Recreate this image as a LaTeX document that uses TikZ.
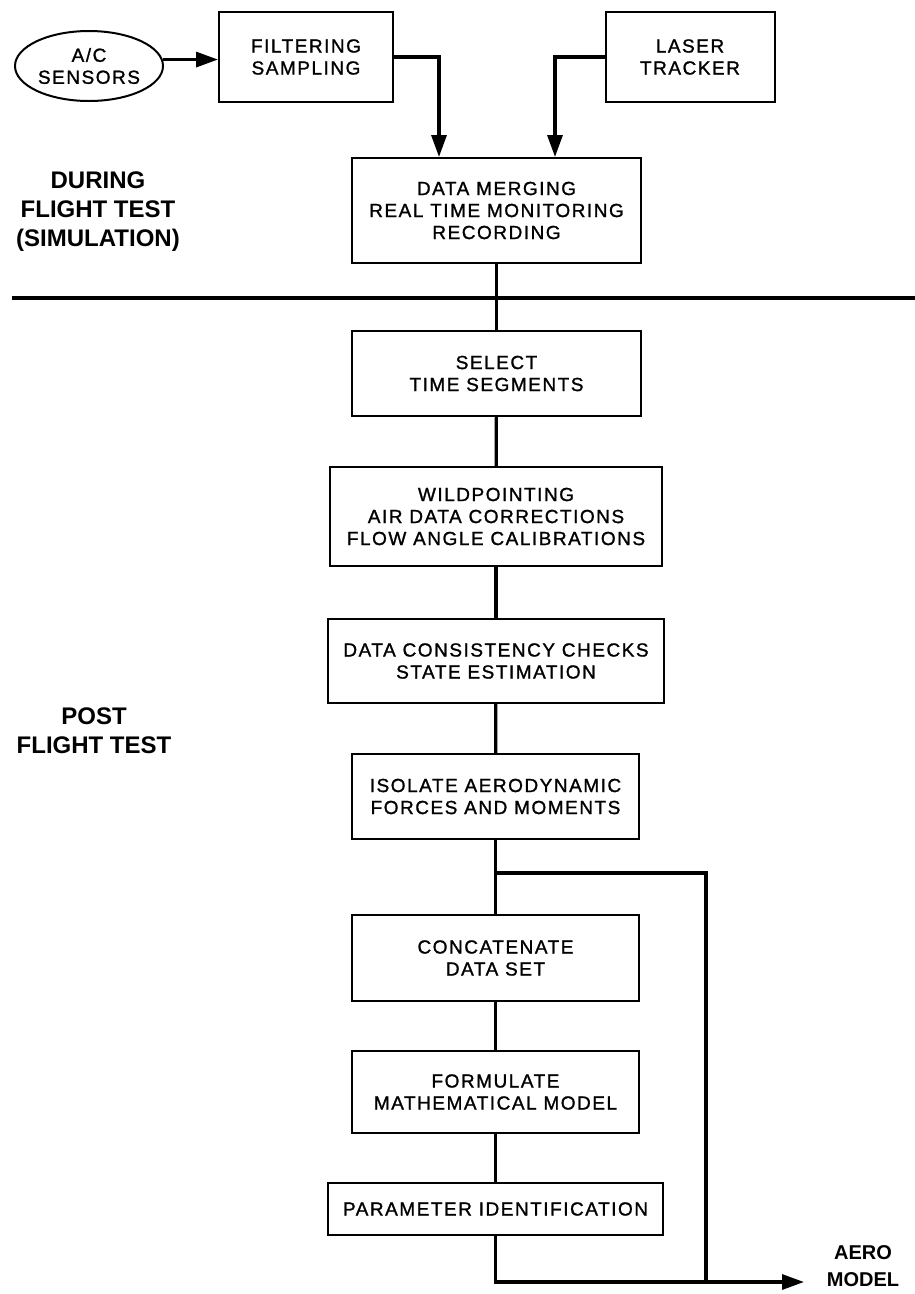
\documentclass[tikz,border=0pt]{standalone}
\usepackage{fontspec}
\setmainfont{Liberation Sans}
\newfontfamily\boxfont[LetterSpace=8,FakeBold=1.2]{Liberation Sans}
\usetikzlibrary{arrows.meta,shapes.geometric}
\begin{document}
\begin{tikzpicture}[x=1pt,y=-1pt,
  box/.style={draw, line width=2pt, align=center, inner sep=0pt,
    font=\boxfont\fontsize{19}{22}\selectfont},
  conn/.style={line width=3.2pt},
  arr/.style={conn, -{Triangle[length=22pt,width=15pt]}},
  side/.style={align=center, font=\bfseries\fontsize{24}{29}\selectfont},
  aerolbl/.style={align=center, font=\bfseries\fontsize{20}{27}\selectfont}]
\useasboundingbox (0,0) rectangle (915,1294);

% top row
\node[box, ellipse, minimum width=148pt, minimum height=70pt] (ell) at (89,66) {A/C\\SENSORS};
\node[box, minimum width=174pt, minimum height=90pt] (filt) at (306,57) {FILTERING\\SAMPLING};
\node[box, minimum width=169pt, minimum height=90pt] (laser) at (690,57) {LASER\\TRACKER};

% main column
\node[box, minimum width=289pt, minimum height=105pt] (merge) at (496.5,210.5) {DATA MERGING\\REAL TIME MONITORING\\RECORDING};
\node[box, minimum width=289pt, minimum height=85pt] (select) at (496.5,373.5) {SELECT\\TIME SEGMENTS};
\node[box, minimum width=332pt, minimum height=99pt] (wild) at (496,516.5) {WILDPOINTING\\AIR DATA CORRECTIONS\\FLOW ANGLE CALIBRATIONS};
\node[box, minimum width=336pt, minimum height=84pt] (cons) at (496,661) {DATA CONSISTENCY CHECKS\\STATE ESTIMATION};
\node[box, minimum width=287pt, minimum height=85pt] (iso) at (495.5,796.5) {ISOLATE AERODYNAMIC\\FORCES AND MOMENTS};
\node[box, minimum width=287pt, minimum height=86pt] (concat) at (495.5,958) {CONCATENATE\\DATA SET};
\node[box, minimum width=287pt, minimum height=82pt] (form) at (495.5,1092) {FORMULATE\\MATHEMATICAL MODEL};
\node[box, minimum width=335pt, minimum height=52pt] (param) at (495.5,1209) {PARAMETER IDENTIFICATION};

% side labels
\node[side] (during) at (98,212) {DURING\\FLIGHT TEST\\(SIMULATION)};
\node[side] (post) at (94,731) {POST\\FLIGHT TEST};
\node[aerolbl] (aero) at (863,1266) {AERO\\MODEL};

% divider
\draw[conn] (12,298) -- (915,298);

% connectors
\draw[arr] (ell.5) -- (ell.5 -| filt.west);
\draw[arr] (filt.east) -| ([xshift=88pt]merge.north west);
\draw[arr] (laser.west) -| ([xshift=204pt]merge.north west);
\draw[conn] (merge) -- (select);
\draw[conn] (select) -- (wild);
\draw[conn] (wild) -- (cons);
\draw[conn] (cons) -- (iso);
\draw[conn] (iso) -- (concat);
\draw[conn] (concat) -- (form);
\draw[conn] (form) -- (param);

\coordinate (b1) at (496,873);
\coordinate (b2) at (706,873);
\coordinate (b3) at (706,1282);
\coordinate (out) at (804,1282);
\draw[conn] (b1) -- (b2) -- (b3);
\draw[arr] (param.south) |- (out);
\end{tikzpicture}
\end{document}
